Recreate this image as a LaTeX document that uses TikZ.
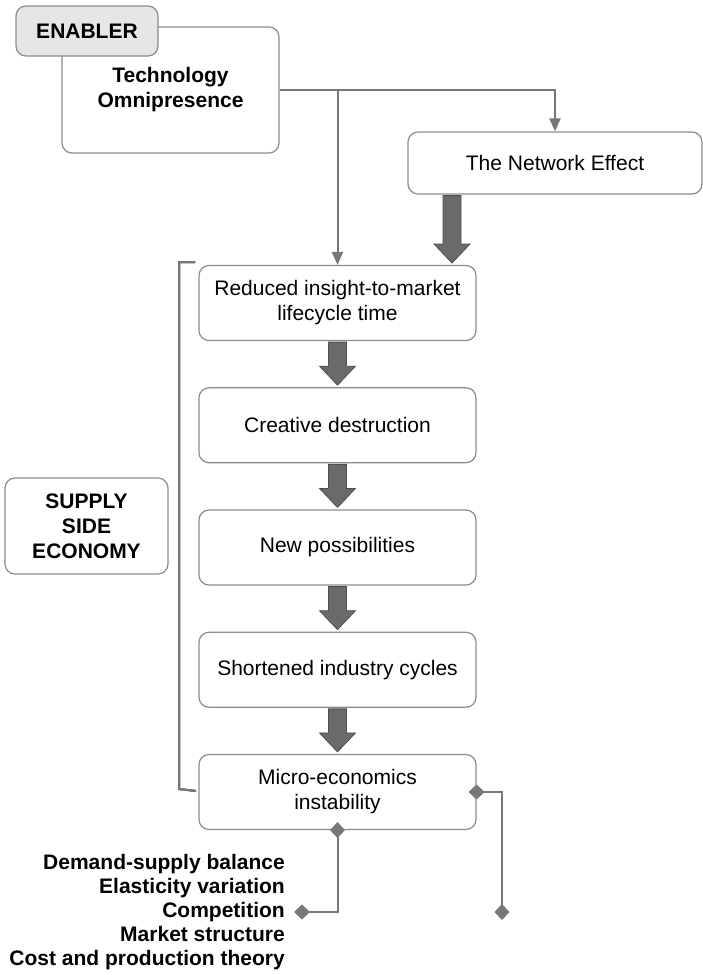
\documentclass[tikz,border=0pt]{standalone}
\usepackage{fontspec}
\setmainfont{Liberation Sans}
\usetikzlibrary{arrows.meta,calc}
\definecolor{linegray}{HTML}{777777}
\definecolor{boxgray}{HTML}{8C8C8C}
\definecolor{arrowfill}{HTML}{6A6A6A}
\definecolor{arrowdraw}{HTML}{4F4F4F}
\definecolor{enablerfill}{HTML}{E6E6E6}
\newcommand{\diafont}{\fontsize{21}{25}\selectfont}
\newcommand{\thickarrow}[2]{\draw[fatarrow] ($#1+(-9,1)$) -- ($#2+(-9,-21)$) -- ($#2+(-18,-21)$) -- ($#2+(0,-2)$) -- ($#2+(18,-21)$) -- ($#2+(9,-21)$) -- ($#1+(9,1)$) -- cycle;}
\tikzset{
stage/.style={draw=boxgray, line width=1.2pt, rounded corners=10pt, fill=white, align=center, minimum width=277pt, minimum height=75pt},
link/.style={linegray, line width=2pt},
tri/.style={-{Triangle[width=11pt,length=13pt]}},
dia/.style={{Diamond[width=15pt,length=16pt]}-{Diamond[width=15pt,length=16pt]}, shorten <=-8pt},
fatarrow/.style={fill=arrowfill, draw=arrowdraw, line width=0.8pt}
}
\begin{document}
\begin{tikzpicture}[x=1pt,y=-1pt,font=\diafont]
\useasboundingbox (0,0) rectangle (703,975);
\node[stage, minimum width=217pt, minimum height=126pt, font=\diafont\bfseries] (tech) at (170.5,90) {Technology\\Omnipresence};
\node[stage, minimum width=142pt, minimum height=50pt, fill=enablerfill, font=\diafont\bfseries] (en) at (87,31) {ENABLER};
\node[stage, minimum width=294pt, minimum height=62pt] (net) at (555,163) {The Network Effect};
\foreach \n/\t [count=\i from 0] in {red/{Reduced insight-to-market\\lifecycle time}, cre/{Creative destruction}, new/{New possibilities}, sho/{Shortened industry cycles}, mic/{Micro-economics\\instability}}
  \node[stage] (\n) at (337.5,{303+122.25*\i}) {\t};
\node[stage, minimum width=163pt, minimum height=96pt, font=\diafont\bfseries] (sup) at (86.5,526) {SUPPLY\\SIDE\\ECONOMY};
\node[anchor=east, align=right, inner xsep=9pt, font=\fontsize{21}{24}\selectfont\bfseries] (list) at (294,912) {Demand-supply balance\\Elasticity variation\\Competition\\Market structure\\Cost and production theory};
\draw[link,tri] (tech.east) -| (net.north);
\draw[link,tri] (tech.east -| red.north) -- (red.north);
\coordinate (nettip) at (452,265);
\coordinate (nettop) at (net.south -| nettip);
\thickarrow{(nettop)}{(nettip)}
\foreach \a/\b in {red/cre, cre/new, new/sho, sho/mic}
  \thickarrow{(\a.south)}{(\b.north)}
\draw[link, line join=round] (195,262) -- (179,262) -- (179,789) -- (196,791);
\draw[link,dia] (mic.south) |- (list.east);
\coordinate (rend) at (502,920);
\draw[link,dia] (mic.east) -| (rend);
\end{tikzpicture}
\end{document}
